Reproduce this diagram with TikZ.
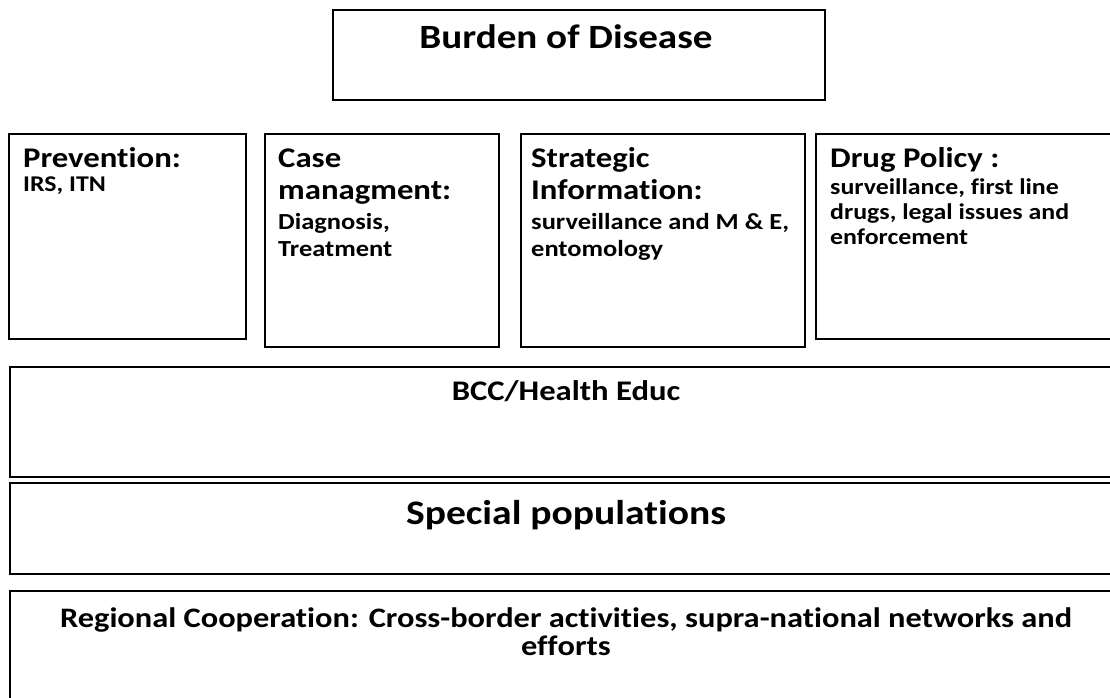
\documentclass[tikz,border=0pt]{standalone}
\usepackage{fontspec}
\setmainfont{Carlito}[FakeStretch=1.15,Ligatures={NoCommon}]
\newcommand{\fsz}[1]{\fontsize{#1}{#1}\selectfont}
\begin{document}
\begin{tikzpicture}[x=1pt,y=-1pt,
  box/.style={draw=black,line width=1.5pt},
  ctr/.style={anchor=base,inner sep=0pt,font=\bfseries\fsz{#1}},
  lft/.style={anchor=base west,inner sep=0pt,font=\bfseries\fsz{#1}}
]
\clip (0,0) rectangle (1110,698);
\fill[white] (0,0) rectangle (1110,698);
% top box
\draw[box] (333,10) rectangle (825,100);
\node[ctr=34] (bod) at (566,49) {Burden of Disease};
% four columns
\draw[box] (9,134) rectangle (246,339);
\draw[box] (265,134) rectangle (499,347);
\draw[box] (521,134) rectangle (805,347);
\draw[box] (816,134) rectangle (1120,339);
\node[lft=28.5] (p1) at (23,167) {Prevention:};
\node[lft=22.5] (p2) at (23,191) {IRS, ITN};
\node[lft=28.5] (c1) at (278,167) {Case};
\node[lft=28.5] (c2) at (278,199) {managment:};
\node[lft=23] (c3) at (278,229) {Diagnosis,};
\node[lft=23] (c4) at (278,256) {Treatment};
\node[lft=28.5] (s1) at (531,167) {Strategic};
\node[lft=28.5] (s2) at (531,199) {Information:};
\node[lft=23] (s3) at (531,229) {surveillance and M \& E,};
\node[lft=23] (s4) at (531,256) {entomology};
\node[lft=28.5] (d1) at (830,167) {Drug Policy :};
\node[lft=22.5] (d2) at (830,194) {surveillance, f\kern0pt irst line};
\node[lft=22.5] (d3) at (830,219) {drugs, legal issues and};
\node[lft=22.5] (d4) at (830,244) {enforcement};
% wide bands
\draw[box] (10,367) rectangle (1120,477);
\node[ctr=28.4] (bcc) at (566,400) {BCC/Health Educ};
\draw[box] (10,483) rectangle (1120,574);
\node[ctr=34.4] (sp) at (566,524) {Special populations};
\draw[box] (10,591) rectangle (1120,720);
\node[ctr=28.2] (rc1) at (566,627) {Regional Cooperation: Cross-border activities, supra-national networks and};
\node[ctr=28.2] (rc2) at (566,655) {ef\kern0pt f\kern0pt orts};
\end{tikzpicture}
\end{document}
